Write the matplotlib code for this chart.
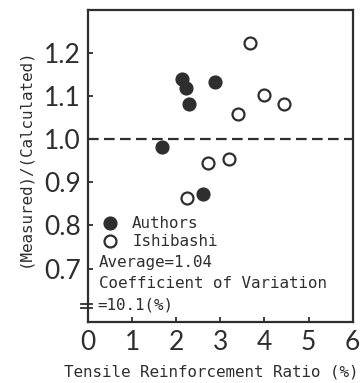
import matplotlib
matplotlib.use("Agg")
import matplotlib.pyplot as plt
from matplotlib.lines import Line2D
import matplotlib.transforms as mtransforms

# Data
authors_x = [2.12, 2.22, 2.30, 2.88, 1.68, 2.61]
authors_y = [1.139, 1.118, 1.081, 1.132, 0.981, 0.873]
ishibashi_x = [3.67, 4.00, 4.45, 3.39, 2.71, 3.19, 2.25]
ishibashi_y = [1.223, 1.103, 1.081, 1.059, 0.945, 0.954, 0.863]
xticks = [0, 1, 2, 3, 4, 5, 6]
yticks = [0.7, 0.8, 0.9, 1.0, 1.1, 1.2]
ytick_labels = ["0.7", "0.8", "0.9", "1.0", "1.1", "1.2"]
stats_lines = ["Average=1.04", "Coefficient of Variation", "=10.1(%)"]

ink = "#2e2e2e"
mono = "DejaVu Sans Mono"
fs = 11.4

fig = plt.figure(figsize=(3.63, 3.83), dpi=100)
fig.patch.set_facecolor("white")
ax = fig.add_axes([88/363, (383-322)/383, (352.7-88)/363, (322-10)/383])

ax.plot(authors_x, authors_y, "o", ms=9.2, color=ink, mec=ink, zorder=3)
ax.plot(ishibashi_x, ishibashi_y, "o", ms=8.6, mfc="white", mec=ink, mew=1.6, zorder=3)

ax.axhline(1.0, color=ink, lw=1.6, dashes=(4.8, 2.4), zorder=2)

ax.set_xlim(0, 6)
ax.set_ylim(0.576, 1.30)
ax.set_xticks(xticks)
ax.set_yticks(yticks)
ax.set_yticklabels(ytick_labels)

for s in ax.spines.values():
    s.set_linewidth(1.6)
    s.set_color(ink)

ax.tick_params(direction="in", length=3.5, width=1.3, color=ink, labelcolor=ink,
               labelsize=19)
ax.tick_params(axis="x", pad=6)
ax.tick_params(axis="y", pad=5)
for lab in ax.get_xticklabels() + ax.get_yticklabels():
    lab.set_fontfamily("Lato")
    lab.set_color(ink)

ax.set_xlabel("Tensile Reinforcement Ratio (%)", fontfamily=mono, fontsize=fs,
              color=ink)
ax.xaxis.set_label_coords(0.465, -0.136)
ax.set_ylabel("(Measured)/(Calculated)", fontfamily=mono, fontsize=fs, color=ink)
ax.yaxis.set_label_coords(-0.212, 0.526)

# axis break mark on left spine
trans = mtransforms.blended_transform_factory(ax.transAxes, ax.transData)
for yb in (0.618, 0.609):
    ax.add_line(Line2D([-0.027, 0.016], [yb, yb], transform=trans, color=ink,
                       lw=1.3, clip_on=False))

handles = [
    Line2D([], [], ls="none", marker="o", ms=9.2, color=ink),
    Line2D([], [], ls="none", marker="o", ms=8.6, mfc="white", mec=ink, mew=1.6),
]
leg = ax.legend(handles, ["Authors", "Ishibashi"], loc="center left",
                bbox_to_anchor=(0.032, 0.286), frameon=False,
                prop={"family": mono, "size": fs}, handletextpad=0.75,
                labelspacing=0.2, borderaxespad=0.0, handlelength=1.3,
                borderpad=0.2)
for t in leg.get_texts():
    t.set_color(ink)

stat_y = [0.190, 0.125, 0.0545]
stat_x = [0.042, 0.042, 0.034]
for txt, xx, yy in zip(stats_lines, stat_x, stat_y):
    ax.text(xx, yy, txt, transform=ax.transAxes, fontfamily=mono, fontsize=fs,
            color=ink, va="center", ha="left")

fig.savefig("out.png", dpi=100, facecolor="white")
